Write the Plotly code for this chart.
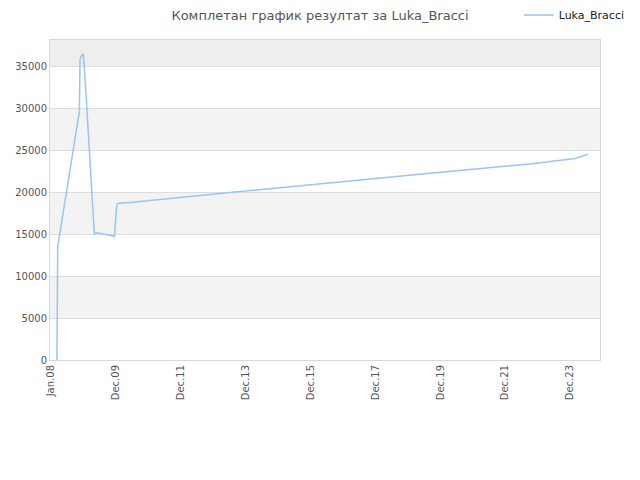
import plotly.graph_objects as go

# data points
dates = [
    "2008-03-05", "2008-03-14", "2008-11-01", "2008-11-13", "2008-11-20",
    "2008-12-02", "2008-12-21", "2008-12-28", "2009-01-16", "2009-02-04",
    "2009-03-02", "2009-03-24", "2009-04-12", "2009-05-01", "2009-05-08",
    "2009-05-28", "2009-12-01", "2009-12-12", "2009-12-20", "2010-01-08",
    "2010-01-26", "2010-06-07", "2013-07-07", "2016-08-07", "2019-09-07",
    "2022-10-08", "2024-02-27", "2024-07-22",
]
values = [
    0, 13540, 28870, 29470, 35840,
    36230, 36500, 36430, 33650, 30070,
    24690, 21110, 17520, 14930, 15130,
    15200, 14800, 14650, 15920, 18510,
    18720, 18790, 19990, 21180, 22300,
    23410, 24050, 24570,
]
series_name = "Luka_Bracci"

tick_dates = ["2008-01-01", "2010-01-01", "2012-01-01", "2014-01-01", "2016-01-01",
              "2018-01-01", "2020-01-01", "2022-01-01", "2024-01-01"]
tick_labels = ["Jan.08", "Dec.09", "Dec.11", "Dec.13", "Dec.15",
               "Dec.17", "Dec.19", "Dec.21", "Dec.23"]

y_top = 38200
bands = [(5000, 10000), (15000, 20000), (25000, 30000)]

fig = go.Figure()
fig.add_trace(go.Scatter(x=dates, y=values, mode="lines", name=series_name,
                         line=dict(color="#99c5f2", width=1.5)))

shapes = []
for lo, hi in bands:
    shapes.append(dict(type="rect", xref="paper", yref="y", x0=0, x1=1, y0=lo, y1=hi,
                       fillcolor="#f3f3f3", line=dict(width=0), layer="below"))
shapes.append(dict(type="rect", xref="paper", yref="y", x0=0, x1=1, y0=35000, y1=y_top,
                   fillcolor="#eeeeee", line=dict(width=0), layer="below"))

# the page adds an 8px body margin, so margins are shifted to compensate
fig.update_layout(
    width=640, height=480,
    margin=dict(l=42, r=48, t=32, b=128, autoexpand=False),
    paper_bgcolor="white", plot_bgcolor="white",
    font=dict(family="DejaVu Sans", color="#555555", size=10),
    title=dict(text="Комплетан график резултат за Luka_Bracci", x=0.4875, xanchor="center",
               y=0.984, yanchor="middle", font=dict(size=13, color="#555555")),
    showlegend=True,
    legend=dict(x=1.054, xanchor="right", y=1.078, yanchor="middle", orientation="h",
                itemwidth=30, bgcolor="rgba(0,0,0,0)", font=dict(size=11, color="#222222")),
    shapes=shapes,
)
fig.update_xaxes(type="date", range=["2007-12-18", "2024-12-04"],
                 tickvals=tick_dates, ticktext=tick_labels, tickangle=-90,
                 showgrid=False, zeroline=False, showline=True, linecolor="#d8d8d8",
                 mirror=True, ticks="", tickfont=dict(size=10, color="#555555"))
fig.update_yaxes(range=[0, y_top], tickvals=[0, 5000, 10000, 15000, 20000, 25000, 30000, 35000],
                 showgrid=True, gridcolor="#dddddd", zeroline=False, showline=True,
                 linecolor="#d8d8d8", mirror=True, ticks="", tickformat="d",
                 tickfont=dict(size=10, color="#555555"))

fig.write_html("out.html")
